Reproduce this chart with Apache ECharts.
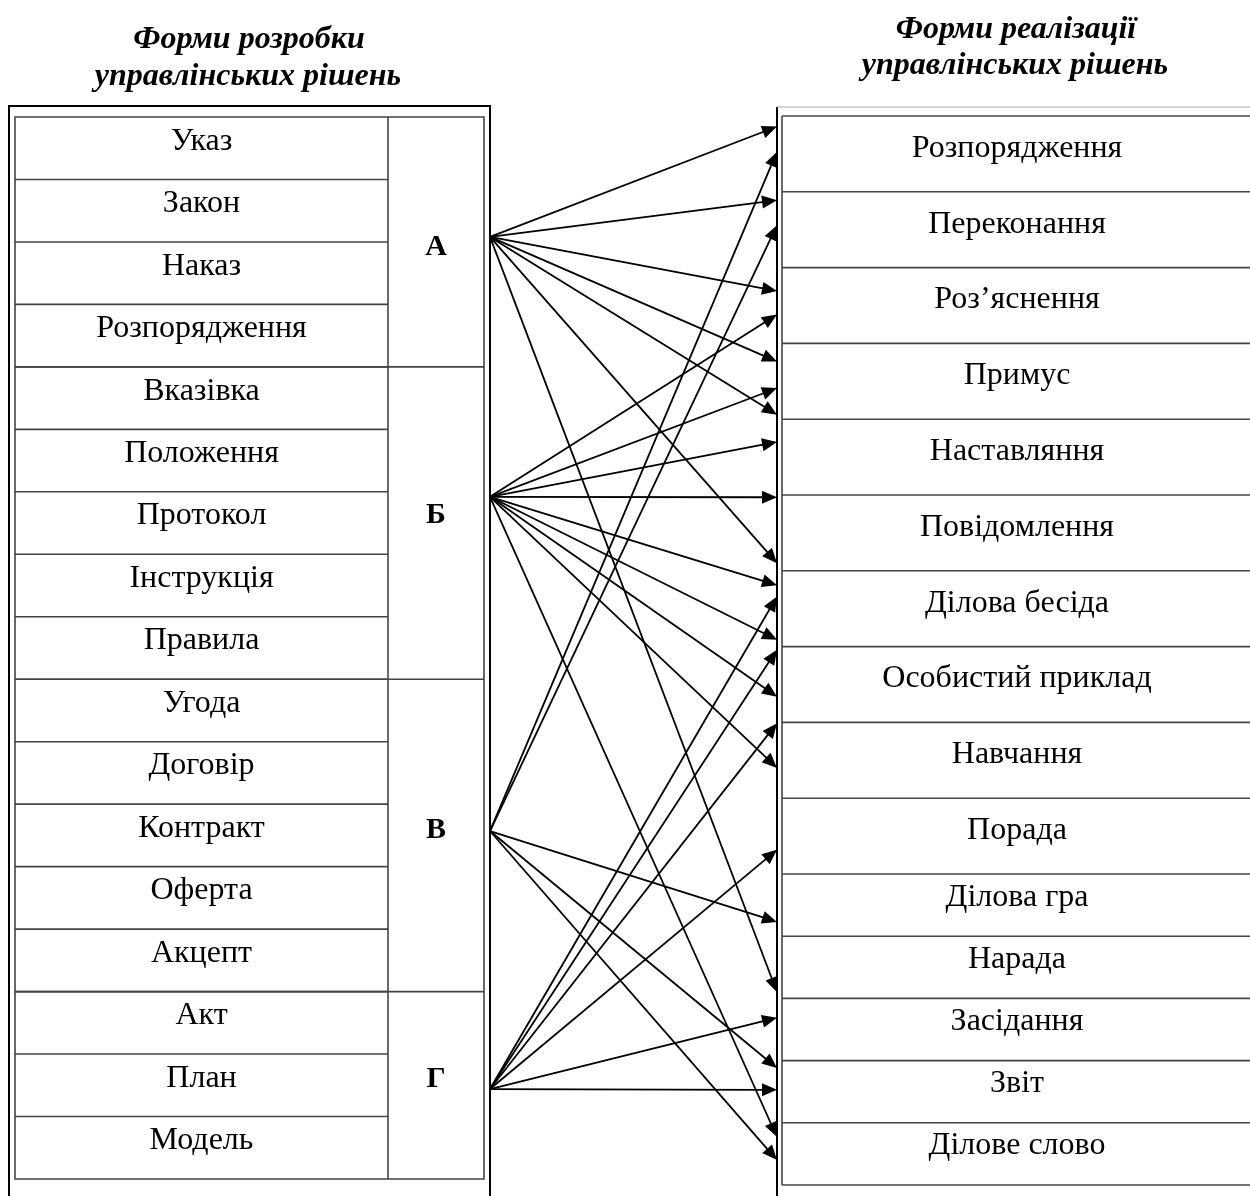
<!DOCTYPE html>
<html>
<head>
<meta charset="utf-8">
<script src="https://cdn.jsdelivr.net/npm/echarts@6/dist/echarts.min.js"></script>
<style>
html,body{margin:0;padding:0;background:#ffffff;}
#c{width:1250px;height:1196px;}
</style>
</head>
<body>
<div id="c"></div>
<script>
// ---------------- data ----------------
const titleLeft = ['Форми розробки', 'управлінських рішень'];
const titleRight = ['Форми реалізації', 'управлінських рішень'];
const leftItems = ['Указ', 'Закон', 'Наказ', 'Розпорядження', 'Вказівка', 'Положення', 'Протокол', 'Інструкція', 'Правила', 'Угода', 'Договір', 'Контракт', 'Оферта', 'Акцепт', 'Акт', 'План', 'Модель'];
const groupNames = ['А', 'Б', 'В', 'Г'];
const groupSizes = [4, 5, 5, 3];
const rightItems = ['Розпорядження', 'Переконання', 'Роз’яснення', 'Примус', 'Наставляння', 'Повідомлення', 'Ділова бесіда', 'Особистий приклад', 'Навчання', 'Порада', 'Ділова гра', 'Нарада', 'Засідання', 'Звіт', 'Ділове слово'];
// links per group: [target item index, where the arrow meets that item's row (0 = top, 1 = bottom)]
const linksA = [[0, 0.14], [1, 0.11], [2, 0.31], [3, 0.24], [3, 0.94], [5, 0.90], [11, 0.90]];
const linksB = [[2, 0.62], [3, 0.59], [4, 0.30], [5, 0.03], [6, 0.19], [6, 0.91], [7, 0.66], [8, 0.60], [14, 0.23]];
const linksV = [[0, 0.47], [1, 0.44], [10, 0.77], [13, 0.12], [14, 0.60]];
const linksG = [[6, 0.34], [7, 0.04], [8, 0.01], [9, 0.68], [12, 0.31], [13, 0.47]];

// ---------------- layout ----------------
const W = 1250, H = 1196;
const FONT = "'Liberation Serif','Times New Roman',serif";
const L = {ox0: 9, ox1: 490, oy0: 106, ix0: 15, ix1: 484, col: 388, top: 117, rowH: 62.47};
const GROUP_ORIGIN_ROW = [1.92, 6.08, 11.43, 15.56];
const GROUP_LABEL_ROW = [2.09, 6.38, 11.41, 15.40];
const R = {ox: 777, oy: 107, x0: 782, x1: 1254, top: 116, tallN: 10, tallH: 75.8, shortH: 62.2, tx: 1017};
const ROW_FS = 32, GROUP_FS = 30, TITLE_FS = 32, TEXT_DY = -7;

function rTop(i) { return i < R.tallN ? R.top + i * R.tallH : R.top + R.tallN * R.tallH + (i - R.tallN) * R.shortH; }
function rH(i) { return i < R.tallN ? R.tallH : R.shortH; }
function groupStart(g) { let s = 0; for (let k = 0; k < g; k++) s += groupSizes[k]; return s; }

const links = [];
[linksA, linksB, linksV, linksG].forEach((arr, g) => arr.forEach(l => links.push([g, l[0], l[1]])));

function mkLine(api, x1, y1, x2, y2, stroke, w) {
  const a = api.coord([x1, y1]), b = api.coord([x2, y2]);
  return {type: 'line', shape: {x1: a[0], y1: a[1], x2: b[0], y2: b[1]}, style: {stroke: stroke, lineWidth: w}};
}
function mkText(api, x, y, text, fs, weight, style, align) {
  const p = api.coord([x, y]);
  return {type: 'text', x: p[0], y: p[1], style: {text: text, fill: '#000', font: (style || 'normal') + ' ' + (weight || 'normal') + ' ' + fs + 'px ' + FONT, align: align || 'center', verticalAlign: 'middle'}};
}

// left frame + column, groups
function renderLeftFrame(params, api) {
  const ch = [];
  const bottom = L.top + leftItems.length * L.rowH;
  const a = api.coord([L.ox0, H + 10]), b = api.coord([L.ox0, L.oy0]), c = api.coord([L.ox1, L.oy0]), d = api.coord([L.ox1, H + 10]);
  ch.push({type: 'polyline', shape: {points: [a, b, c, d]}, style: {stroke: '#000', lineWidth: 2, fill: null}});
  const p0 = api.coord([L.ix0, L.top]), p1 = api.coord([L.ix1, bottom]);
  ch.push({type: 'rect', shape: {x: p0[0], y: p0[1], width: p1[0] - p0[0], height: p1[1] - p0[1]}, style: {stroke: '#444', lineWidth: 1.6, fill: null}});
  ch.push(mkLine(api, L.col, L.top, L.col, bottom, '#444', 1.6));
  groupNames.forEach((g, gi) => {
    const ly = L.top + GROUP_LABEL_ROW[gi] * L.rowH;
    ch.push(mkText(api, (L.col + L.ix1) / 2, ly, g, GROUP_FS, 'bold'));
    if (gi > 0) {
      const y = L.top + groupStart(gi) * L.rowH;
      ch.push(mkLine(api, L.ix0, y, L.ix1, y, '#444', 1.6));
    }
  });
  return {type: 'group', children: ch};
}
// left rows
function renderLeftRow(params, api) {
  const i = api.value(0);
  const ch = [];
  const top = L.top + i * L.rowH;
  ch.push(mkText(api, (L.ix0 + L.col) / 2, top + L.rowH / 2 + TEXT_DY, leftItems[i], ROW_FS));
  if (i > 0) ch.push(mkLine(api, L.ix0, top, L.col, top, '#444', 1.6));
  return {type: 'group', children: ch};
}
// right frame
function renderRightFrame(params, api) {
  const ch = [];
  ch.push(mkLine(api, R.ox, R.oy, R.ox, H + 10, '#000', 2));
  ch.push(mkLine(api, R.ox, R.oy, W + 10, R.oy, '#aaa', 1));
  const bottom = rTop(rightItems.length);
  ch.push(mkLine(api, R.x0, R.top, R.x0, bottom, '#444', 1.6));
  ch.push(mkLine(api, R.x0, bottom, R.x1, bottom, '#444', 1.6));
  return {type: 'group', children: ch};
}
function renderRightRow(params, api) {
  const i = api.value(0);
  const ch = [];
  const top = rTop(i), h = rH(i);
  ch.push(mkLine(api, R.x0, top, R.x1, top, '#444', 1.6));
  ch.push(mkText(api, R.tx, top + h / 2 + TEXT_DY + (i < R.tallN ? 1.5 : -1), rightItems[i], ROW_FS));
  return {type: 'group', children: ch};
}
// arrows
function renderArrow(params, api) {
  const g = api.value(0), t = api.value(1), f = api.value(2);
  const sy = L.top + GROUP_ORIGIN_ROW[g] * L.rowH;
  const ty = rTop(t) + f * rH(t);
  const s = api.coord([L.ox1, sy]), e = api.coord([R.ox, ty]);
  const dx = e[0] - s[0], dy = e[1] - s[1], len = Math.sqrt(dx * dx + dy * dy);
  const ux = dx / len, uy = dy / len;
  const AL = 15, AW = 6.5;
  const bx = e[0] - ux * AL, by = e[1] - uy * AL;
  return {type: 'group', children: [
    {type: 'line', shape: {x1: s[0], y1: s[1], x2: bx + ux * 2, y2: by + uy * 2}, style: {stroke: '#000', lineWidth: 1.8}},
    {type: 'polygon', shape: {points: [[e[0], e[1]], [bx - uy * AW, by + ux * AW], [bx + uy * AW, by - ux * AW]]}, style: {fill: '#000'}}
  ]};
}
function renderTitles(params, api) {
  const ch = [];
  ch.push(mkText(api, 249, 40, titleLeft[0], TITLE_FS, 'bold', 'italic'));
  ch.push(mkText(api, 248, 77, titleLeft[1], TITLE_FS, 'bold', 'italic'));
  ch.push(mkText(api, 1016, 30, titleRight[0], TITLE_FS, 'bold', 'italic'));
  ch.push(mkText(api, 1015, 66, titleRight[1], TITLE_FS, 'bold', 'italic'));
  return {type: 'group', children: ch};
}

const chart = echarts.init(document.getElementById('c'));
chart.setOption({
  animation: false,
  backgroundColor: '#ffffff',
  grid: {left: 0, right: 0, top: 0, bottom: 0},
  xAxis: {type: 'value', min: 0, max: W, show: false},
  yAxis: {type: 'value', min: 0, max: H, inverse: true, show: false},
  series: [
    {type: 'custom', renderItem: renderTitles, data: [[0]], silent: true},
    {type: 'custom', renderItem: renderLeftFrame, data: [[0]], silent: true},
    {type: 'custom', renderItem: renderLeftRow, data: leftItems.map((n, i) => [i]), silent: true},
    {type: 'custom', renderItem: renderRightFrame, data: [[0]], silent: true},
    {type: 'custom', renderItem: renderRightRow, data: rightItems.map((n, i) => [i]), silent: true},
    {type: 'custom', renderItem: renderArrow, data: links, silent: true}
  ]
});
</script>
</body>
</html>
